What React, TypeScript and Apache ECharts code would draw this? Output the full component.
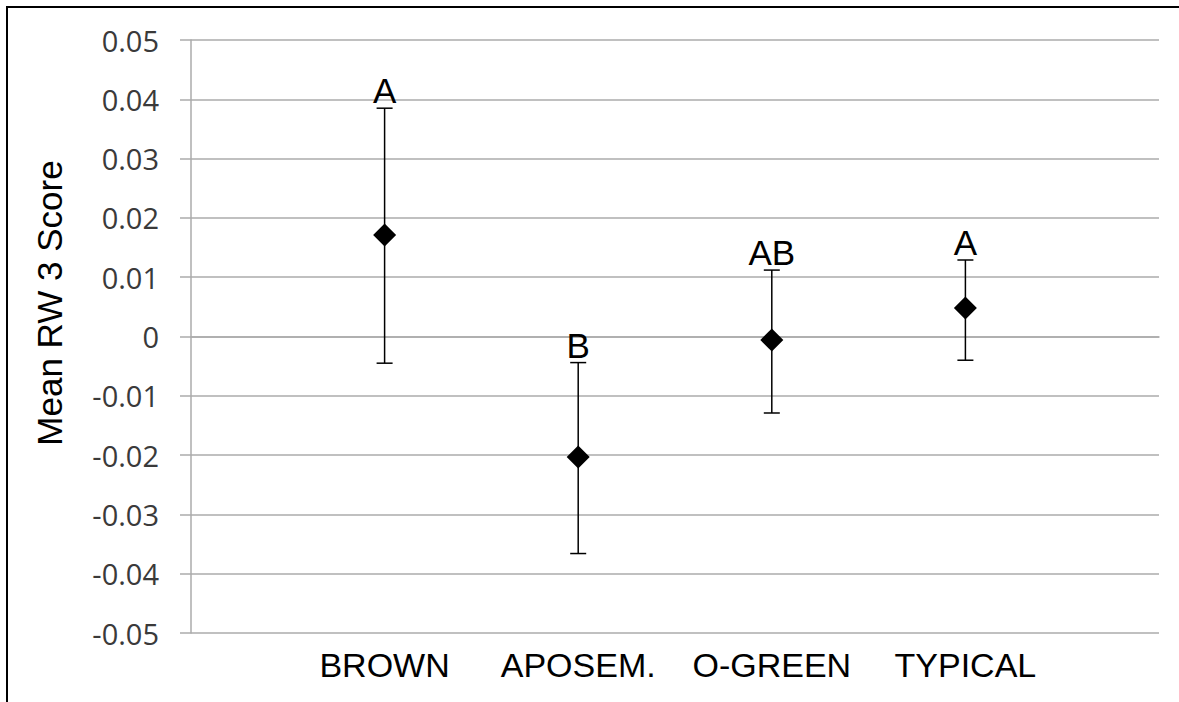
import React, { useEffect, useRef } from "react";
import * as echarts from "echarts";

const categories = ["", "BROWN", "APOSEM.", "O-GREEN", "TYPICAL", ""];
const groups = ["BROWN", "APOSEM.", "O-GREEN", "TYPICAL"];
const means = [0.0171, -0.0203, -0.0006, 0.0048];
const upper = [0.0385, -0.0044, 0.0112, 0.0129];
const lower = [-0.0045, -0.0366, -0.0129, -0.004];
const letters = ["A", "B", "AB", "A"];
const yTicks = { min: -0.05, max: 0.05, interval: 0.01 };
const yTitle = "Mean RW 3 Score";

export default function App() {
  const ref = useRef<HTMLDivElement>(null);
  useEffect(() => {
    if (!ref.current) return;
    const chart = echarts.init(ref.current, undefined, { renderer: "svg" });
    const gridColor = "#ababab";
    const pointData = groups.map((g, i) => [i + 1, means[i]]);
    const errData = groups.map((g, i) => [i + 1, lower[i], upper[i], i]);
    chart.setOption({
      animation: false,
      backgroundColor: "#ffffff",
      grid: { left: 191, right: 20, top: 40, bottom: 69, containLabel: false },
      graphic: [
        {
          type: "line",
          shape: { x1: 7, y1: 7, x2: 1179, y2: 7 },
          style: { stroke: "#000", lineWidth: 2 },
          silent: true,
          z: 100,
        },
        {
          type: "line",
          shape: { x1: 7, y1: 6, x2: 7, y2: 702 },
          style: { stroke: "#000", lineWidth: 2 },
          silent: true,
          z: 100,
        },
        {
          type: "text",
          x: 49,
          y: 303,
          rotation: Math.PI / 2,
          style: {
            text: yTitle,
            fill: "#000",
            fontFamily: "Liberation Sans",
            fontSize: 35,
            align: "center",
            verticalAlign: "middle",
          },
          silent: true,
        },
      ],
      xAxis: {
        type: "category",
        data: categories,
        boundaryGap: false,
        axisLine: { show: true, lineStyle: { color: gridColor, width: 1.5 } },
        axisTick: { show: false },
        splitLine: { show: false },
        axisLabel: {
          interval: 0,
          margin: 15,
          color: "#000",
          fontFamily: "Liberation Sans",
          fontSize: 34,
        },
      },
      yAxis: {
        type: "value",
        min: yTicks.min,
        max: yTicks.max,
        interval: yTicks.interval,
        axisLine: { show: true, lineStyle: { color: gridColor, width: 1.5 } },
        axisTick: { show: true, length: 11, lineStyle: { color: gridColor, width: 1.5 } },
        splitLine: { show: true, lineStyle: { color: gridColor, width: 1.5 } },
        axisLabel: {
          margin: 32,
          color: "#3a3a3a",
          fontFamily: "Open Sans",
          fontSize: 29,
          formatter: (v: number) => (Math.abs(v) < 1e-9 ? "0" : String(parseFloat(v.toFixed(2)))),
        },
      },
      series: [
        {
          type: "custom",
          data: errData,
          z: 3,
          renderItem: (params: any, api: any) => {
            const x = api.value(0);
            const lo = api.coord([x, api.value(1)]);
            const hi = api.coord([x, api.value(2)]);
            const idx = api.value(3);
            const cap = 8;
            const st = { stroke: "#000", lineWidth: 1.5 };
            return {
              type: "group",
              children: [
                { type: "line", shape: { x1: lo[0], y1: lo[1], x2: hi[0], y2: hi[1] }, style: st },
                { type: "line", shape: { x1: lo[0] - cap, y1: lo[1], x2: lo[0] + cap, y2: lo[1] }, style: st },
                { type: "line", shape: { x1: hi[0] - cap, y1: hi[1], x2: hi[0] + cap, y2: hi[1] }, style: st },
                {
                  type: "text",
                  x: hi[0],
                  y: hi[1],
                  style: {
                    text: letters[idx],
                    fill: "#000",
                    fontFamily: "Liberation Sans",
                    fontSize: 35,
                    align: "center",
                    verticalAlign: "bottom",
                  },
                },
              ],
            };
          },
        },
        {
          type: "scatter",
          data: pointData,
          symbol: "diamond",
          symbolSize: [23, 23],
          itemStyle: { color: "#000", opacity: 1 },
          z: 5,
        },
      ],
    });
    return () => chart.dispose();
  }, []);
  return (
    <div
      ref={ref}
      style={{ position: "fixed", left: 0, top: 0, width: 1179, height: 702, background: "#fff" }}
    />
  );
}
